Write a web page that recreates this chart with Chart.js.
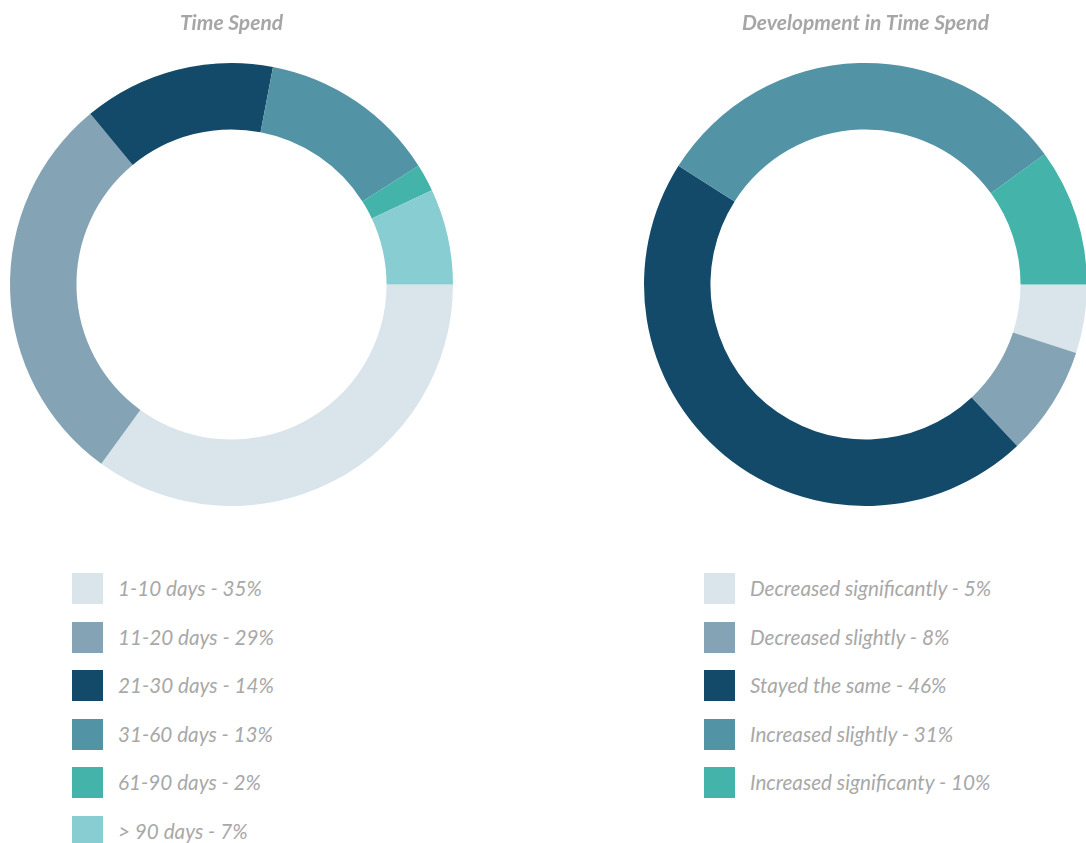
<!DOCTYPE html>
<html lang="en">
<head>
    <meta charset="UTF-8">
    <title>Time Spend</title>
    <script src="https://cdn.jsdelivr.net/npm/chart.js"></script>
    <style>
        body {
            margin: 0;
            width: 1086px;
            height: 843px;
            overflow: hidden;
            background: #fff;
            position: relative;
            font-family: Lato, sans-serif;
        }
        .chart { position: absolute; top: 0; }
        .legend {
            position: absolute;
            top: 573px;
            margin: 0;
            padding: 0;
            list-style: none;
        }
        .legend li {
            height: 48.5px;
            display: flex;
            align-items: flex-start;
        }
        .legend span.box {
            width: 31px;
            height: 31px;
            margin-right: 15px;
        }
        .legend span.txt {
            font-style: italic;
            font-size: 20.7px;
            line-height: 31px;
            color: #a8a8a8;
        }
    </style>
</head>
<body>
    <canvas id="chart1" class="chart" style="left:0px" width="463" height="506"></canvas>
    <canvas id="chart2" class="chart" style="left:634px" width="463" height="506"></canvas>
    <ul id="legend1" class="legend" style="left:72px"></ul>
    <ul id="legend2" class="legend" style="left:704px"></ul>

    <script>
        // Time Spend
        const daysLabels = ['1-10 days', '11-20 days', '21-30 days', '31-60 days', '61-90 days', '> 90 days'];
        const daysValues = [35, 29, 14, 13, 2, 7];
        const daysColors = ['#d9e5eb', '#84a4b5', '#134a69', '#5293a6', '#44b3aa', '#87cdd2'];

        // Development in Time Spend
        const devLabels = ['Decreased significantly', 'Decreased slightly', 'Stayed the same', 'Increased slightly', 'Increased significanty'];
        const devValues = [5, 8, 46, 31, 10];
        const devColors = ['#d9e5eb', '#84a4b5', '#134a69', '#5293a6', '#44b3aa'];

        function fazerGrafico(id, titulo, labels, values, colors) {
            return new Chart(document.getElementById(id), {
                type: 'doughnut',
                data: {
                    labels: labels,
                    datasets: [{
                        data: values,
                        backgroundColor: colors,
                        borderWidth: 0,
                        hoverOffset: 0
                    }]
                },
                options: {
                    responsive: false,
                    animation: false,
                    rotation: 90,
                    cutout: '70%',
                    plugins: {
                        legend: { display: false },
                        tooltip: { enabled: false },
                        title: {
                            display: true,
                            text: titulo,
                            color: '#a6a6a6',
                            font: { family: 'Lato', size: 21, style: 'italic', weight: 'bold' },
                            padding: { top: 10.4, bottom: 27.4 }
                        }
                    }
                }
            });
        }

        function fazerLegenda(id, labels, values, colors) {
            const ul = document.getElementById(id);
            labels.forEach((label, i) => {
                const li = document.createElement('li');
                li.innerHTML = '<span class="box" style="background:' + colors[i] + '"></span>' +
                    '<span class="txt">' + label + ' - ' + values[i] + '%</span>';
                ul.appendChild(li);
            });
        }

        fazerGrafico('chart1', 'Time Spend', daysLabels, daysValues, daysColors);
        fazerGrafico('chart2', 'Development in Time Spend', devLabels, devValues, devColors);
        fazerLegenda('legend1', daysLabels, daysValues, daysColors);
        fazerLegenda('legend2', devLabels, devValues, devColors);
    </script>
</body>
</html>
